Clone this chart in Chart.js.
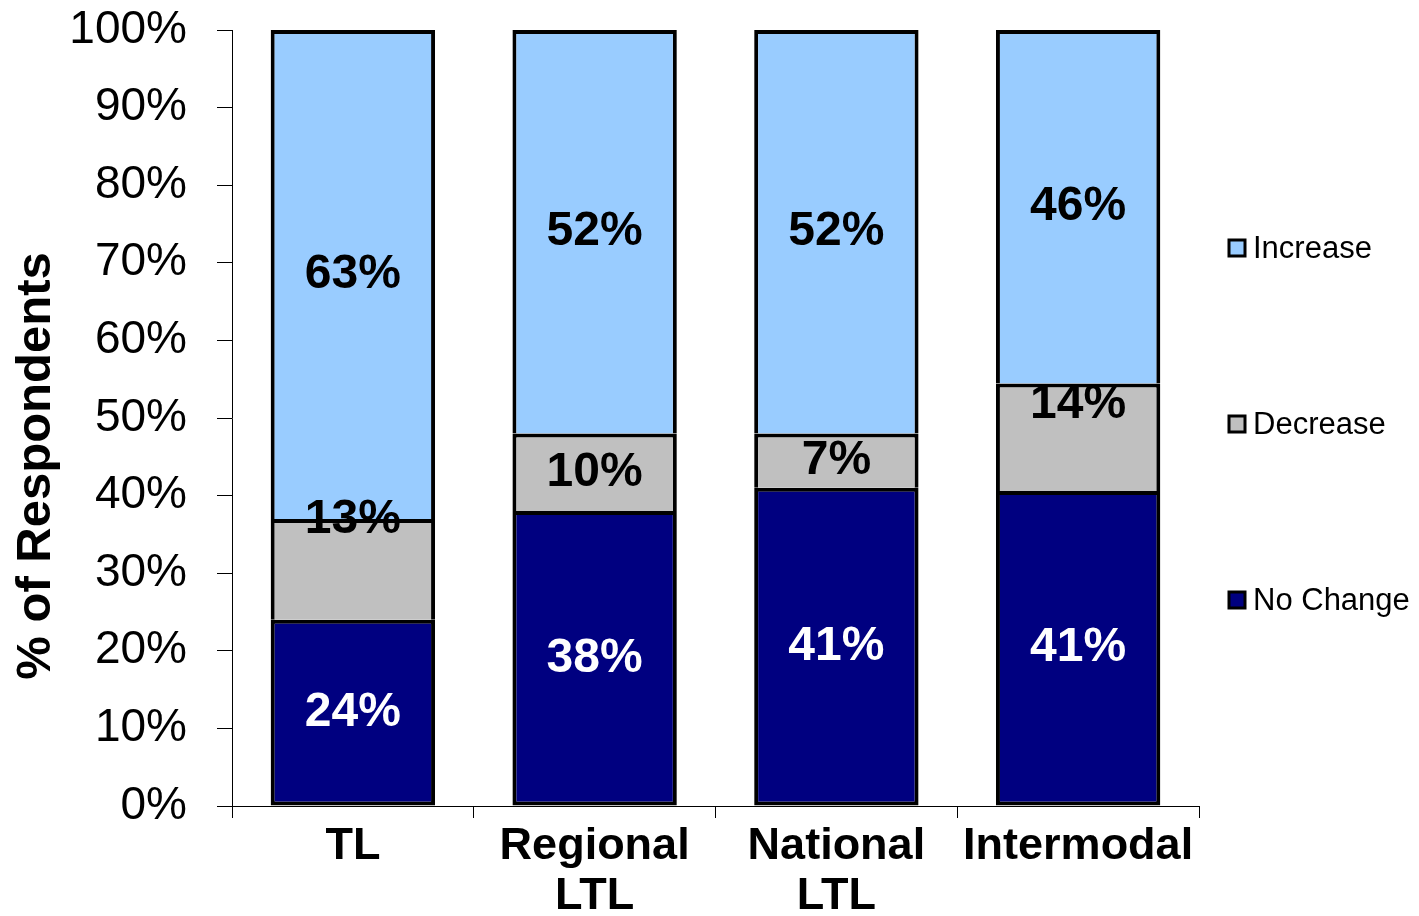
<!DOCTYPE html>
<html>
<head>
<meta charset="utf-8">
<script src="https://cdn.jsdelivr.net/npm/chart.js@4.4.1/dist/chart.umd.min.js"></script>
<style>
  body { margin: 0; background: #fff; }
  #wrap { width: 1419px; height: 916px; }
</style>
</head>
<body>
<div id="wrap"><canvas id="myChart"></canvas></div>
<script>
// categories along x
var categories = [["TL"], ["Regional", "LTL"], ["National", "LTL"], ["Intermodal"]];

// percentages as printed on the bars
var noChange = [24, 38, 41, 41];
var decrease = [13, 10, 7, 14];
var increase = [63, 52, 52, 46];

var yTicks = [0, 10, 20, 30, 40, 50, 60, 70, 80, 90, 100];

// 100% stacked: each column is scaled to its own total
function share(arr, i) {
  var total = noChange[i] + decrease[i] + increase[i];
  return arr[i] / total * 100;
}
function shares(arr) {
  return arr.map(function (v, i) { return share(arr, i); });
}

var FONT = "'Liberation Sans', Arial, sans-serif";

// bar value labels, centred in each segment (two were nudged up in the original)
var barLabels = {
  id: "barLabels",
  afterDatasetsDraw: function (chart, args, opts) {
    var ctx = chart.ctx;
    ctx.save();
    ctx.font = "bold 48px " + FONT;
    ctx.textAlign = "center";
    ctx.textBaseline = "middle";
    chart.data.datasets.forEach(function (ds, di) {
      chart.getDatasetMeta(di).data.forEach(function (bar, i) {
        var shift = opts.shift[di + "-" + i] || 0;
        ctx.fillStyle = di === 0 ? "#fff" : "#000";
        ctx.fillText(ds.printed[i] + "%", bar.x, (bar.y + bar.base) / 2 + shift);
      });
    });
    ctx.restore();
  }
};

// y title and right-hand legend
var sideText = {
  id: "sideText",
  afterDraw: function (chart) {
    var ctx = chart.ctx;
    var area = chart.chartArea;
    ctx.save();
    ctx.fillStyle = "#000";
    ctx.font = "bold 49px " + FONT;
    ctx.textAlign = "center";
    ctx.textBaseline = "middle";
    ctx.translate(36, area.bottom - 340);
    ctx.rotate(-Math.PI / 2);
    ctx.fillText("% of Respondents", 0, 0);
    ctx.restore();

    ctx.save();
    ctx.font = "31px " + FONT;
    ctx.textBaseline = "middle";
    var mid = (area.top + area.bottom) / 2 + 6;
    var sets = chart.data.datasets.slice().reverse();
    sets.forEach(function (ds, k) {
      var y = mid + (k - 1) * 176;
      var x = area.right + 30;
      ctx.fillStyle = ds.backgroundColor;
      ctx.fillRect(x, y - 8, 16, 16);
      ctx.lineWidth = 3;
      ctx.strokeStyle = "#000";
      ctx.strokeRect(x, y - 8, 16, 16);
      ctx.fillStyle = "#000";
      ctx.fillText(ds.label, x + 24, y + 1);
    });
    ctx.restore();
  }
};

var ctx = document.getElementById("myChart").getContext("2d");
var myChart = new Chart(ctx, {
  type: "bar",
  data: {
    labels: categories,
    datasets: [
      {
        label: "No Change",
        data: shares(noChange),
        printed: noChange,
        backgroundColor: "#000080",
        borderColor: "#000",
        borderWidth: 4,
        borderSkipped: false,
      },
      {
        label: "Decrease",
        data: shares(decrease),
        printed: decrease,
        backgroundColor: "#C0C0C0",
        borderColor: "#000",
        borderWidth: 4,
      },
      {
        label: "Increase",
        data: shares(increase),
        printed: increase,
        backgroundColor: "#99CCFF",
        borderColor: "#000",
        borderWidth: 4,
      },
    ],
  },
  options: {
    responsive: true,
    maintainAspectRatio: false,
    animation: false,
    barPercentage: 0.68,
    categoryPercentage: 1,
    layout: { padding: { top: 2, right: 220, left: 0, bottom: 0 } },
    plugins: {
      legend: { display: false },
      tooltip: { enabled: false },
      barLabels: { shift: { "1-0": -50, "1-3": -32 } },
    },
    scales: {
      x: {
        stacked: true,
        grid: {
          offset: true,
          drawOnChartArea: false,
          drawTicks: true,
          tickLength: 12,
          color: "#000",
        },
        border: { color: "#000", width: 1 },
        ticks: {
          color: "#000",
          padding: 4,
          maxRotation: 0,
          autoSkip: false,
          font: { family: FONT, size: 45, weight: "bold", lineHeight: 1.1 },
        },
        afterFit: function (scale) { scale.height = 110; },
      },
      y: {
        stacked: true,
        min: 0,
        max: 100,
        grid: {
          drawOnChartArea: false,
          drawTicks: true,
          tickLength: 15,
          color: "#000",
        },
        border: { color: "#000", width: 1 },
        afterBuildTicks: function (scale) {
          scale.ticks = yTicks.map(function (v) { return { value: v }; });
        },
        ticks: {
          color: "#000",
          padding: 30,
          font: { family: FONT, size: 46 },
          callback: function (v) { return v + "%"; },
        },
        afterFit: function (scale) {
          scale.width = 232;
          scale.paddingTop = 30;
          scale.paddingBottom = 0;
        },
      },
    },
  },
  plugins: [barLabels, sideText],
});
</script>
</body>
</html>
